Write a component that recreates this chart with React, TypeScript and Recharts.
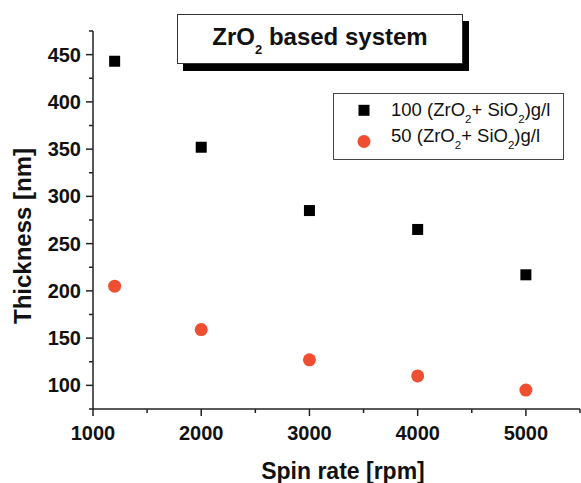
import React from 'react';
import { ScatterChart, Scatter, XAxis, YAxis, Legend } from 'recharts';

const spinRates = [1200, 2000, 3000, 4000, 5000];
const thickness100 = [443, 352, 285, 265, 217];
const thickness50 = [205, 159, 127, 110, 95];
const xTicks = [1000, 1500, 2000, 2500, 3000, 3500, 4000, 4500, 5000, 5500];
const xLabelTicks = [1000, 2000, 3000, 4000, 5000];
const yTicks = [75, 100, 125, 150, 175, 200, 225, 250, 275, 300, 325, 350, 375, 400, 425, 450, 475];
const yLabelTicks = [100, 150, 200, 250, 300, 350, 400, 450];

const series100 = spinRates.map((x, i) => ({ x, y: thickness100[i] }));
const series50 = spinRates.map((x, i) => ({ x, y: thickness50[i] }));

const FONT = '"Liberation Sans", Arial, Helvetica, sans-serif';
const AXIS = '#222';

const XTick = (props: any) => {
  const { x, y, payload } = props;
  const v = payload.value;
  const major = xLabelTicks.includes(v);
  return (
    <g>
      <line x1={x} x2={x} y1={y} y2={y + (major ? 7 : 4)} stroke={AXIS} strokeWidth={1.5} />
      {major && (
        <text x={x} y={y + 31} textAnchor="middle" fontSize={20} fontWeight="bold" fontFamily={FONT} fill="#111">
          {v}
        </text>
      )}
    </g>
  );
};

const TopTick = (props: any) => {
  const { x, y } = props;
  return <line x1={x} x2={x} y1={y} y2={y - 2} stroke={AXIS} strokeWidth={1.2} />;
};

const YTick = (props: any) => {
  const { x, y, payload } = props;
  const v = payload.value;
  const major = yLabelTicks.includes(v);
  return (
    <g>
      <line x1={x} x2={x - (major ? 7 : 4)} y1={y} y2={y} stroke={AXIS} strokeWidth={1.5} />
      {major && (
        <text x={x - 12} y={y + 7} textAnchor="end" fontSize={20} fontWeight="bold" fontFamily={FONT} fill="#111">
          {v}
        </text>
      )}
    </g>
  );
};

const XTitle = () => (
  <text x={343} y={479} textAnchor="middle" fontSize={23} fontWeight="bold" fontFamily={FONT} fill="#111">
    Spin rate [rpm]
  </text>
);

const YTitle = () => (
  <text
    x={31}
    y={236}
    transform="rotate(-90, 31, 236)"
    textAnchor="middle"
    fontSize={24}
    fontWeight="bold"
    fontFamily={FONT}
    fill="#111"
  >
    Thickness [nm]
  </text>
);

const Square = (p: any) => <rect x={p.cx - 5.5} y={p.cy - 5.5} width={11} height={11} fill="#000" />;
const Dot = (p: any) => <circle cx={p.cx} cy={p.cy} r={6.5} fill="#ef4f30" />;

const Sub = ({ children }: any) => (
  <span style={{ fontSize: 11.5, position: 'relative', top: 7 }}>{children}</span>
);

const LegendContent = () => (
  <div
    style={{
      width: 231,
      height: 67,
      boxSizing: 'border-box',
      border: '1px solid #444',
      background: '#fff',
      fontFamily: FONT,
      fontSize: 18.5,
      color: '#111',
      position: 'relative',
    }}
  >
    <svg width={20} height={60} style={{ position: 'absolute', left: 20, top: 0 }}>
      <rect x={4.5} y={10.8} width={11} height={11} fill="#000" />
      <circle cx={10} cy={47.5} r={6.5} fill="#ef4f30" />
    </svg>
    <div style={{ position: 'absolute', left: 57, top: 4.5, whiteSpace: 'nowrap', lineHeight: 'normal' }}>
      100 (ZrO<Sub>2</Sub>+ SiO<Sub>2</Sub>)g/l
    </div>
    <div style={{ position: 'absolute', left: 57, top: 30.5, whiteSpace: 'nowrap', lineHeight: 'normal' }}>
      50 (ZrO<Sub>2</Sub>+ SiO<Sub>2</Sub>)g/l
    </div>
  </div>
);

export default function App() {
  return (
    <div style={{ position: 'absolute', left: 0, top: 0, width: 581, height: 483, background: '#fff', fontFamily: FONT }}>
      <ScatterChart width={581} height={483} margin={{ top: 31, right: 1, bottom: 0, left: 0 }}>
        <XAxis
          xAxisId="b"
          type="number"
          dataKey="x"
          domain={[1000, 5500]}
          ticks={xTicks}
          interval={0}
          tickSize={0}
          tickMargin={0}
          tickLine={false}
          tick={<XTick />}
          height={74}
          stroke={AXIS}
          strokeWidth={1.5}
          allowDataOverflow
          label={<XTitle />}
        />
        <XAxis
          xAxisId="t"
          orientation="top"
          type="number"
          dataKey="x"
          domain={[1000, 5500]}
          ticks={xTicks}
          interval={0}
          tickSize={0}
          tickMargin={0}
          tickLine={false}
          tick={<TopTick />}
          height={0}
          stroke={AXIS}
          strokeWidth={1.5}
          allowDataOverflow
        />
        <YAxis
          yAxisId="l"
          type="number"
          dataKey="y"
          domain={[75, 475]}
          ticks={yTicks}
          interval={0}
          tickSize={0}
          tickMargin={0}
          tickLine={false}
          tick={<YTick />}
          width={93}
          stroke={AXIS}
          strokeWidth={1.5}
          allowDataOverflow
          label={<YTitle />}
        />
        <YAxis
          yAxisId="r"
          orientation="right"
          type="number"
          dataKey="y"
          domain={[75, 475]}
          ticks={yTicks}
          tick={false}
          tickLine={false}
          width={0}
          stroke="#bbb"
          strokeWidth={1}
          allowDataOverflow
        />
        <Legend
          layout="horizontal"
          verticalAlign="middle"
          align="center"
          content={<LegendContent />}
          wrapperStyle={{ left: 333, top: 93, width: 231, height: 67 }}
        />
        <Scatter
          name="100 (ZrO2+ SiO2)g/l"
          data={series100}
          xAxisId="b"
          yAxisId="l"
          shape={<Square />}
          isAnimationActive={false}
        />
        <Scatter
          name="50 (ZrO2+ SiO2)g/l"
          data={series50}
          xAxisId="b"
          yAxisId="l"
          shape={<Dot />}
          isAnimationActive={false}
        />
      </ScatterChart>
      <div
        style={{
          position: 'absolute',
          left: 177,
          top: 14,
          width: 286,
          height: 50,
          boxSizing: 'border-box',
          border: '1px solid #333',
          background: '#fff',
          boxShadow: '6px 7px 0 #000',
          display: 'flex',
          alignItems: 'center',
          justifyContent: 'center',
          paddingBottom: 4,
          fontFamily: FONT,
          fontWeight: 'bold',
          fontSize: 24,
          color: '#111',
          whiteSpace: 'nowrap',
        }}
      >
        <span>
          ZrO<span style={{ fontSize: 13, position: 'relative', top: 9 }}>2</span> based system
        </span>
      </div>
    </div>
  );
}
